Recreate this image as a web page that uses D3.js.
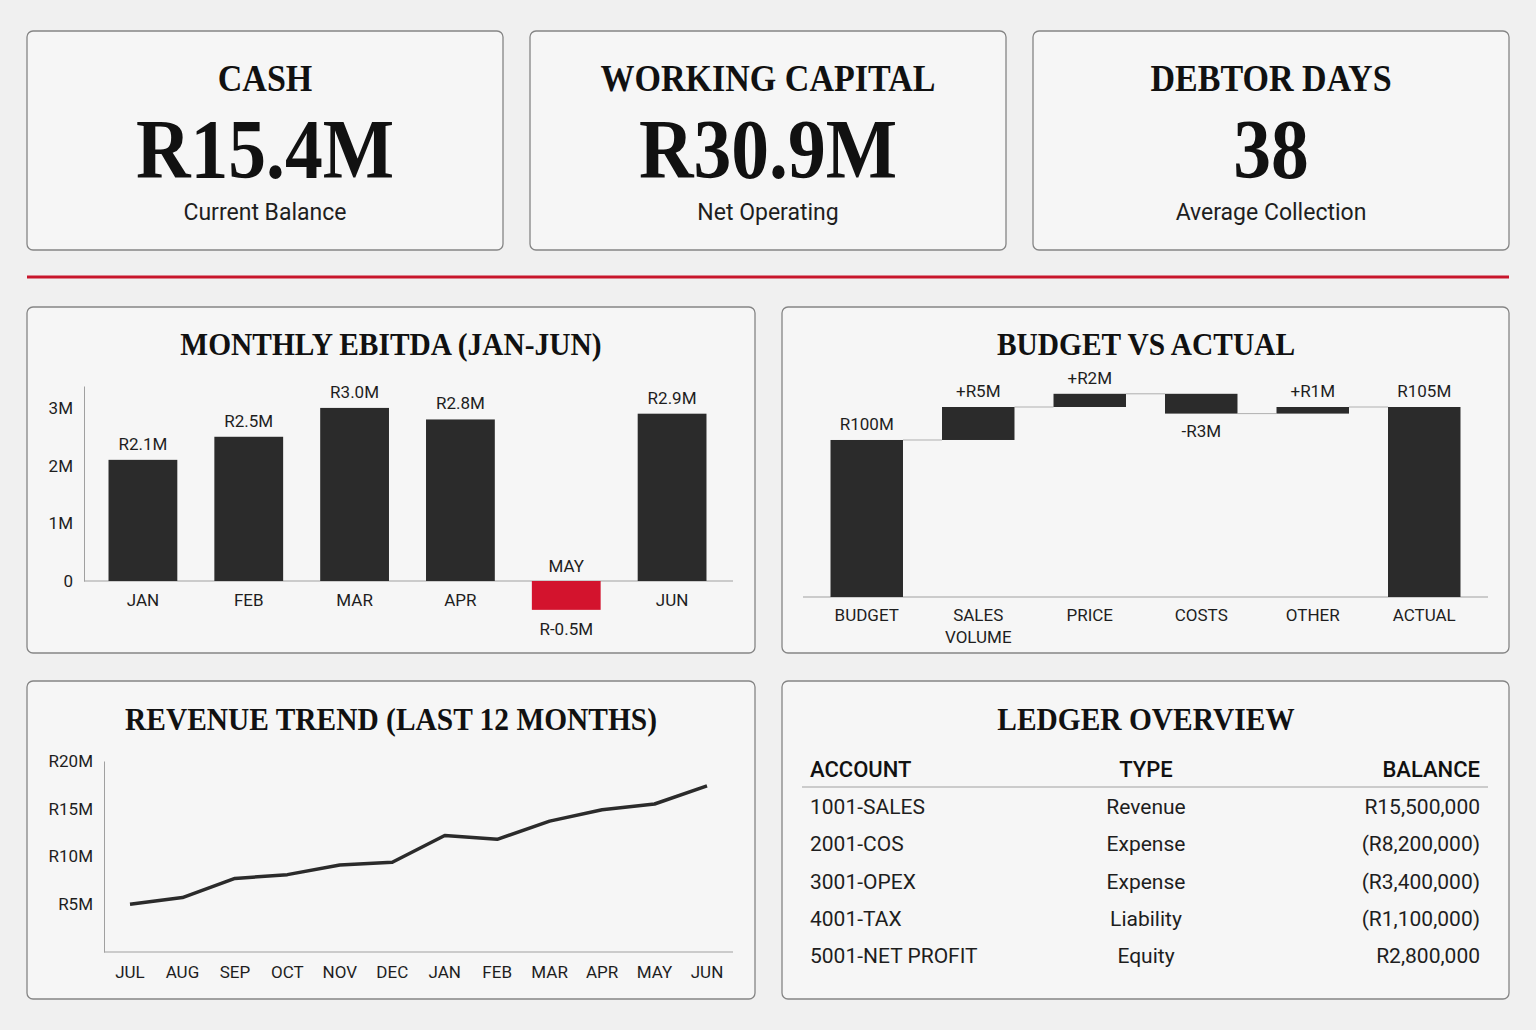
<!DOCTYPE html>
<html lang="en">
<head>
    <meta charset="UTF-8">
    <title>Finance Dashboard</title>
    <script src="https://d3js.org/d3.v7.min.js"></script>
    <style>
        body { margin: 0; background: #f0f0f0; }
        svg { display: block; }
        .serif { font-family: "Liberation Serif", "DejaVu Serif", serif; font-weight: bold; fill: #111; }
        .sans { font-family: Roboto, "Noto Sans", sans-serif; fill: #1e1e1e; }
    </style>
</head>
<body>
    <svg id="dash" width="1536" height="1030"></svg>
    <script>
        // ---- data ----
        const kpiTitles = ["CASH", "WORKING CAPITAL", "DEBTOR DAYS"];
        const kpiValues = ["R15.4M", "R30.9M", "38"];
        const kpiSubtitles = ["Current Balance", "Net Operating", "Average Collection"];

        const ebitdaMonths = ["JAN", "FEB", "MAR", "APR", "MAY", "JUN"];
        const ebitdaValues = [2.1, 2.5, 3.0, 2.8, -0.5, 2.9];
        const ebitdaTicks = [0, 1, 2, 3];

        const bvaCategories = ["BUDGET", "SALES VOLUME", "PRICE", "COSTS", "OTHER", "ACTUAL"];
        const bvaValues = [100, 5, 2, -3, 1, 105];
        const bvaLabels = ["R100M", "+R5M", "+R2M", "-R3M", "+R1M", "R105M"];

        const revenueMonths = ["JUL", "AUG", "SEP", "OCT", "NOV", "DEC", "JAN", "FEB", "MAR", "APR", "MAY", "JUN"];
        const revenueValues = [5.0, 5.7, 7.7, 8.1, 9.1, 9.4, 12.2, 11.8, 13.7, 14.9, 15.5, 17.4];
        const revenueTicks = [5, 10, 15, 20];

        const ledgerColumns = ["ACCOUNT", "TYPE", "BALANCE"];
        const ledgerAccounts = ["1001-SALES", "2001-COS", "3001-OPEX", "4001-TAX", "5001-NET PROFIT"];
        const ledgerTypes = ["Revenue", "Expense", "Expense", "Liability", "Equity"];
        const ledgerBalances = ["R15,500,000", "(R8,200,000)", "(R3,400,000)", "(R1,100,000)", "R2,800,000"];

        const dark = "#2b2b2b";
        const red = "#d3132d";
        const axisGrey = "#a0a0a0";

        const svg = d3.select("#dash");

        function panel(x, y, w, h) {
            svg.append("rect")
                .attr("x", x).attr("y", y)
                .attr("width", w).attr("height", h)
                .attr("rx", 6)
                .style("fill", "#f6f6f6")
                .style("stroke", "#858585")
                .style("stroke-width", 1.3);
        }

        function serifTitle(text, cx, y, size, squeeze) {
            svg.append("text")
                .attr("class", "serif")
                .attr("transform", `translate(${cx},${y}) scale(${squeeze},1)`)
                .attr("text-anchor", "middle")
                .style("font-size", size + "px")
                .text(text);
        }

        // ---- KPI cards ----
        const kpiX = [27, 530, 1033];
        kpiTitles.forEach((t, i) => {
            const cx = kpiX[i] + 238;
            panel(kpiX[i], 31, 476, 219);
            serifTitle(t, cx, 91, 37, 0.92);
            serifTitle(kpiValues[i], cx, 178, 84, 0.9);
            svg.append("text")
                .attr("class", "sans")
                .attr("x", cx).attr("y", 220)
                .attr("text-anchor", "middle")
                .style("font-size", "23px")
                .text(kpiSubtitles[i]);
        });

        svg.append("line")
            .attr("x1", 27).attr("x2", 1509)
            .attr("y1", 277).attr("y2", 277)
            .style("stroke", "#c8162c")
            .style("stroke-width", 3);

        // ---- Monthly EBITDA ----
        panel(27, 307, 728, 346);
        serifTitle("MONTHLY EBITDA (JAN-JUN)", 391, 355, 32, 0.92);

        const ex = d3.scaleBand().domain(ebitdaMonths).range([90, 725])
            .paddingInner(0.35).paddingOuter(0.175);
        const ey = d3.scaleLinear().domain([0, 3.38]).range([581, 386]);

        const eAxis = svg.append("g")
            .attr("transform", "translate(84,0)")
            .call(d3.axisLeft(ey).tickValues(ebitdaTicks).tickSize(0).tickPadding(11)
                .tickFormat(d => d === 0 ? "0" : d + "M"));
        eAxis.select(".domain").style("stroke", axisGrey);
        eAxis.selectAll("text").attr("class", "sans").style("font-size", "17px");

        svg.append("line")
            .attr("x1", 84).attr("x2", 733)
            .attr("y1", ey(0)).attr("y2", ey(0))
            .style("stroke", axisGrey);

        svg.selectAll(".ebar")
            .data(ebitdaValues)
            .join("rect")
            .attr("class", "ebar")
            .attr("x", (d, i) => ex(ebitdaMonths[i]))
            .attr("width", ex.bandwidth())
            .attr("y", d => ey(Math.max(0, d)))
            .attr("height", d => Math.abs(ey(d) - ey(0)))
            .style("fill", d => d < 0 ? red : dark);

        svg.selectAll(".evalue")
            .data(ebitdaValues)
            .join("text")
            .attr("class", "evalue sans")
            .attr("x", (d, i) => ex(ebitdaMonths[i]) + ex.bandwidth() / 2)
            .attr("y", d => d < 0 ? ey(d) + 25 : ey(d) - 10)
            .attr("text-anchor", "middle")
            .style("font-size", "17px")
            .text(d => "R" + d.toFixed(1) + "M");

        svg.selectAll(".emonth")
            .data(ebitdaValues)
            .join("text")
            .attr("class", "emonth sans")
            .attr("x", (d, i) => ex(ebitdaMonths[i]) + ex.bandwidth() / 2)
            .attr("y", d => d < 0 ? ey(0) - 9 : ey(0) + 25)
            .attr("text-anchor", "middle")
            .style("font-size", "17px")
            .text((d, i) => ebitdaMonths[i]);

        // ---- Budget vs Actual (waterfall) ----
        panel(782, 307, 727, 346);
        serifTitle("BUDGET VS ACTUAL", 1146, 355, 32, 0.92);

        const bx = d3.scaleBand().domain(bvaCategories).range([811, 1480])
            .paddingInner(0.35).paddingOuter(0.175);
        const by = d3.scaleLinear().domain([76.2, 105]).range([597, 407]);

        let running = 0;
        const steps = bvaValues.map((v, i) => {
            const isTotal = i === 0 || i === bvaValues.length - 1;
            const start = isTotal ? by.domain()[0] : running;
            const end = isTotal ? v : running + v;
            running = end;
            return { cat: bvaCategories[i], label: bvaLabels[i], start, end, neg: !isTotal && v < 0 };
        });

        svg.append("line")
            .attr("x1", 803).attr("x2", 1488)
            .attr("y1", by.range()[0]).attr("y2", by.range()[0])
            .style("stroke", axisGrey);

        svg.selectAll(".connector")
            .data(steps.slice(0, -1))
            .join("line")
            .attr("class", "connector")
            .attr("x1", d => bx(d.cat) + bx.bandwidth())
            .attr("x2", (d, i) => bx(steps[i + 1].cat))
            .attr("y1", d => by(d.end))
            .attr("y2", d => by(d.end))
            .style("stroke", "#b0b0b0")
            .style("stroke-width", 1);

        svg.selectAll(".bbar")
            .data(steps)
            .join("rect")
            .attr("class", "bbar")
            .attr("x", d => bx(d.cat))
            .attr("width", bx.bandwidth())
            .attr("y", d => by(Math.max(d.start, d.end)))
            .attr("height", d => Math.abs(by(d.start) - by(d.end)))
            .style("fill", dark);

        svg.selectAll(".bvalue")
            .data(steps)
            .join("text")
            .attr("class", "bvalue sans")
            .attr("x", d => bx(d.cat) + bx.bandwidth() / 2)
            .attr("y", d => d.neg ? by(Math.min(d.start, d.end)) + 23 : by(Math.max(d.start, d.end)) - 10)
            .attr("text-anchor", "middle")
            .style("font-size", "17px")
            .text(d => d.label);

        svg.selectAll(".bcat")
            .data(steps)
            .join("text")
            .attr("class", "bcat sans")
            .attr("text-anchor", "middle")
            .style("font-size", "17px")
            .each(function (d) {
                const words = d.cat.split(" ");
                d3.select(this).selectAll("tspan")
                    .data(words)
                    .join("tspan")
                    .attr("x", bx(d.cat) + bx.bandwidth() / 2)
                    .attr("y", (w, j) => by.range()[0] + 24 + j * 22)
                    .text(w => w);
            });

        // ---- Revenue trend ----
        panel(27, 681, 728, 318);
        serifTitle("REVENUE TREND (LAST 12 MONTHS)", 391, 730, 32, 0.92);

        const rx = d3.scalePoint().domain(revenueMonths).range([130, 707]);
        const ry = d3.scaleLinear().domain([0, 20]).range([952, 761]);

        const rAxis = svg.append("g")
            .attr("transform", "translate(104,0)")
            .call(d3.axisLeft(ry).tickValues(revenueTicks).tickSize(0).tickPadding(11)
                .tickFormat(d => "R" + d + "M"));
        rAxis.select(".domain").style("stroke", axisGrey);
        rAxis.selectAll("text").attr("class", "sans").style("font-size", "17px");

        svg.append("line")
            .attr("x1", 104).attr("x2", 733)
            .attr("y1", ry(0)).attr("y2", ry(0))
            .style("stroke", axisGrey);

        svg.selectAll(".rmonth")
            .data(revenueMonths)
            .join("text")
            .attr("class", "rmonth sans")
            .attr("x", d => rx(d))
            .attr("y", ry(0) + 26)
            .attr("text-anchor", "middle")
            .style("font-size", "17px")
            .text(d => d);

        svg.append("path")
            .datum(revenueValues)
            .attr("d", d3.line().x((d, i) => rx(revenueMonths[i])).y(d => ry(d)))
            .style("fill", "none")
            .style("stroke", dark)
            .style("stroke-width", 3.5)
            .style("stroke-linejoin", "round");

        // ---- Ledger overview ----
        panel(782, 681, 727, 318);
        serifTitle("LEDGER OVERVIEW", 1146, 730, 32, 0.92);

        const colX = [810, 1146, 1480];
        const colAnchor = ["start", "middle", "end"];

        svg.selectAll(".lhead")
            .data(ledgerColumns)
            .join("text")
            .attr("class", "lhead sans")
            .attr("x", (d, i) => colX[i])
            .attr("y", 777)
            .attr("text-anchor", (d, i) => colAnchor[i])
            .style("font-size", "22px")
            .style("font-weight", 500)
            .style("fill", "#111")
            .text(d => d);

        svg.append("line")
            .attr("x1", 802).attr("x2", 1488)
            .attr("y1", 787).attr("y2", 787)
            .style("stroke", axisGrey)
            .style("stroke-width", 1.2);

        const rowY = d3.scalePoint().domain(d3.range(ledgerAccounts.length)).range([814, 963]);
        [ledgerAccounts, ledgerTypes, ledgerBalances].forEach((col, c) => {
            svg.selectAll(".lcol" + c)
                .data(col)
                .join("text")
                .attr("class", "lcol" + c + " sans")
                .attr("x", colX[c])
                .attr("y", (d, i) => rowY(i))
                .attr("text-anchor", colAnchor[c])
                .style("font-size", "21px")
                .text(d => d);
        });
    </script>
</body>
</html>
